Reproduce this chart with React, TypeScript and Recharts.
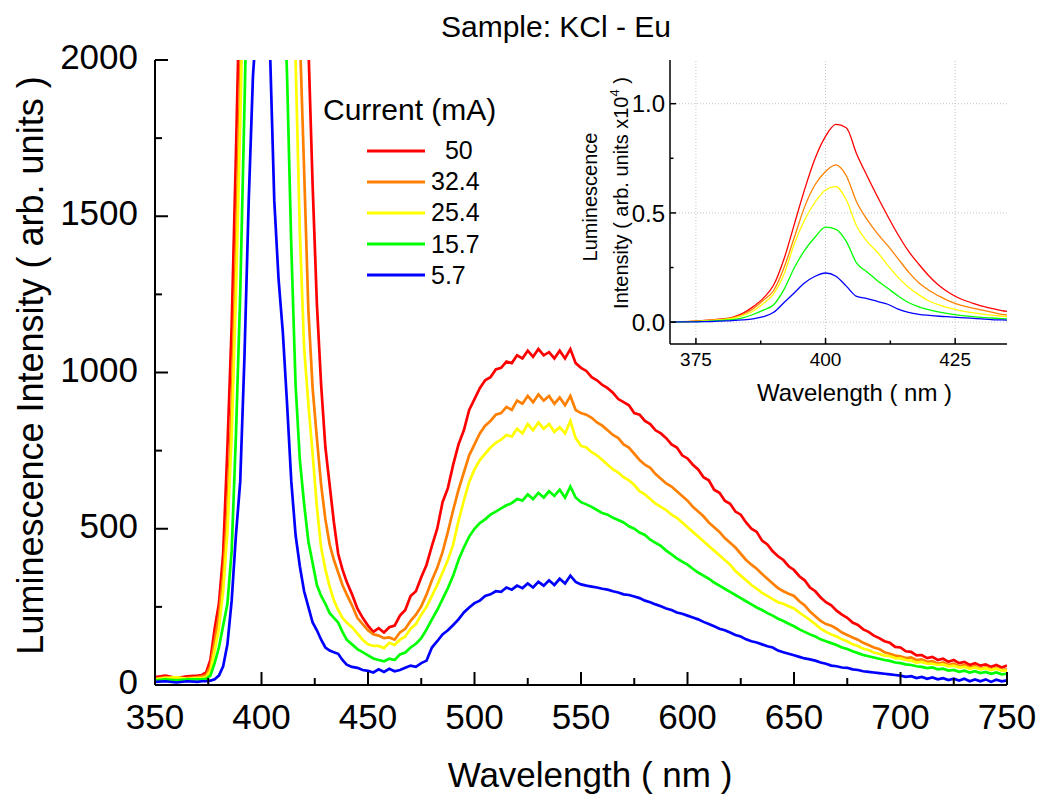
import React from 'react';
import { LineChart, Line, XAxis, YAxis, Legend, ReferenceLine } from 'recharts';

const FONT = '"Liberation Sans", Arial, Helvetica, sans-serif';

// main spectrum, wavelength in nm
const WAVELENGTH = [
  350, 355, 360, 365, 370,
  372, 374, 376, 378, 380, 382, 384, 386, 388, 390,
  392, 394, 396, 398, 400, 402, 404, 406, 408, 410,
  412, 414, 416, 418, 420, 422, 424, 426, 428, 430,
  432, 434, 436, 438, 440,
  442.5, 445, 447.5,
  450, 452.5, 455, 457.5, 460, 462.5, 465, 467.5, 470, 472.5,
  475, 477.5, 480, 482.5, 485, 487.5, 490, 492.5, 495, 497.5,
  500, 502.5, 505, 507.5, 510, 512.5, 515, 517.5, 520, 522.5,
  525, 527.5, 530, 532.5, 535, 537.5, 540, 542.5, 545, 547.5,
  550, 552.5, 555, 557.5, 560, 562.5, 565, 567.5, 570, 572.5,
  575, 577.5, 580, 582.5, 585, 587.5, 590, 592.5, 595, 597.5,
  600, 602.5, 605, 607.5, 610, 612.5, 615, 617.5, 620, 622.5,
  625, 627.5, 630, 632.5, 635, 637.5, 640, 642.5, 645, 647.5,
  650, 652.5, 655, 657.5, 660, 662.5, 665, 667.5, 670, 672.5,
  675, 677.5, 680, 682.5, 685, 687.5, 690, 692.5, 695, 697.5,
  700, 702.5, 705, 707.5, 710, 712.5, 715, 717.5, 720, 722.5,
  725, 727.5, 730, 732.5, 735, 737.5, 740, 742.5, 745, 747.5,
  750,
];

// intensity (arb. units) for each current
const I_50 = [
  25, 30, 22, 28, 30,
  32, 40, 80, 180, 260, 420, 760, 1150, 1700, 2300,
  3200, 4400, 5800, 7200, 8300, 9000, 9000, 8000, 7000, 6200,
  5400, 4600, 3800, 3100, 2500, 2050, 1600, 1220, 960, 760,
  640, 520, 420, 370, 330,
  290, 245, 215,
  190, 170, 182, 168, 185, 190, 222, 240, 285, 300,
  345, 385, 445, 500, 585, 630, 705, 770, 815, 880,
  915, 950, 975, 985, 1010, 1015, 1035, 1030, 1055, 1045,
  1070, 1050, 1075, 1055, 1065, 1045, 1070, 1045, 1075, 1030,
  1015, 1005, 985, 975, 960, 950, 935, 915, 905, 895,
  870, 865, 845, 835, 815, 805, 790, 770, 760, 735,
  725, 705, 690, 665, 655, 625, 615, 590, 580, 555,
  545, 520, 500, 490, 462, 450, 428, 412, 400, 380,
  368, 348, 335, 312, 300, 280, 265, 255, 238, 225,
  215, 200, 192, 178, 170, 158, 150, 140, 135, 122,
  120, 108, 106, 95, 96, 86, 90, 80, 84, 74,
  80, 70, 74, 64, 70, 62, 66, 58, 64, 56,
  62,
];

const I_32_4 = [
  20, 25, 18, 22, 25,
  28, 32, 60, 140, 220, 350, 560, 900, 1400, 1950,
  2700, 3700, 4900, 6000, 7000, 7100, 6500, 5600, 4800, 4200,
  3600, 3000, 2500, 2080, 1650, 1200, 950, 790, 640, 530,
  450, 400, 360, 320, 290,
  255, 215, 195,
  175, 162, 158, 150, 152, 145, 168, 180, 205, 225,
  252, 290, 335, 375, 425, 490, 560, 625, 680, 735,
  770, 805, 830, 845, 865, 870, 890, 880, 910, 900,
  925, 905, 930, 910, 925, 900, 920, 895, 925, 880,
  870, 865, 855, 840, 830, 815, 800, 790, 770, 760,
  740, 720, 705, 695, 675, 660, 645, 635, 620, 605,
  590, 570, 555, 540, 520, 505, 490, 470, 455, 440,
  420, 400, 385, 372, 355, 340, 325, 310, 300, 292,
  285, 268, 255, 235, 220, 205, 195, 190, 180, 168,
  160, 152, 145, 135, 128, 120, 115, 105, 100, 94,
  92, 86, 88, 80, 82, 74, 76, 68, 72, 64,
  68, 60, 64, 56, 60, 52, 56, 50, 54, 48,
  50,
];

const I_25_4 = [
  18, 22, 25, 20, 22,
  22, 25, 45, 110, 180, 300, 490, 800, 1250, 1800,
  2400, 3300, 4300, 5300, 6000, 6100, 5600, 4800, 4100, 3500,
  3000, 2500, 2000, 1450, 1080, 900, 740, 570, 440, 370,
  315, 270, 240, 215, 200,
  185, 165, 145,
  130, 125, 125, 118, 135, 128, 145, 155, 180, 195,
  225, 250, 285, 320, 360, 400, 450, 525, 590, 650,
  690, 720, 740, 760, 775, 785, 800, 795, 820, 805,
  835, 815, 840, 820, 835, 810, 825, 805, 845, 790,
  765, 760, 745, 735, 720, 705, 690, 680, 665, 655,
  640, 620, 610, 595, 580, 570, 560, 545, 535, 520,
  505, 490, 475, 460, 445, 430, 415, 400, 385, 365,
  350, 335, 320, 308, 295, 285, 275, 265, 260, 252,
  245, 232, 220, 208, 195, 180, 170, 162, 155, 146,
  140, 130, 125, 116, 112, 104, 100, 94, 92, 86,
  85, 80, 78, 72, 74, 68, 68, 64, 66, 60,
  62, 56, 58, 52, 56, 50, 54, 48, 52, 46,
  46,
];

const I_15_7 = [
  15, 18, 15, 18, 18,
  18, 20, 30, 70, 120, 190, 260, 430, 800, 1250,
  1850, 2500, 3300, 4000, 4300, 4200, 3800, 3200, 2700, 2350,
  1950, 1400, 960, 720, 580, 460, 390, 320, 285, 260,
  230, 215, 200, 170, 145,
  130, 115, 105,
  95, 85, 80, 76, 84, 80, 98, 104, 120, 132,
  150, 178, 210, 240, 275, 310, 350, 400, 440, 475,
  500, 518, 530, 545, 555, 565, 575, 582, 595, 590,
  610, 595, 615, 600, 620, 605, 625, 600, 635, 600,
  585, 578, 570, 560, 550, 545, 535, 528, 520, 508,
  500, 488, 480, 465, 455, 445, 430, 418, 405, 395,
  385, 372, 360, 350, 340, 328, 318, 308, 298, 288,
  278, 268, 258, 248, 240, 230, 222, 212, 205, 196,
  188, 178, 170, 162, 155, 146, 140, 134, 128, 120,
  115, 108, 102, 96, 92, 88, 84, 80, 77, 72,
  70, 66, 64, 60, 58, 54, 56, 50, 52, 46,
  48, 42, 46, 40, 44, 38, 42, 36, 40, 34,
  36,
];

const I_5_7 = [
  10, 12, 8, 12, 10,
  12, 12, 14, 18, 30, 60, 130, 270, 480, 650,
  1050, 1550, 1950, 2150, 2250, 2150, 2030, 1550, 1300, 1130,
  900, 650, 480, 380, 300, 250, 200, 175, 145, 120,
  110, 105, 100, 80, 65,
  58, 55, 48,
  45, 40, 50, 42, 52, 44, 48, 55, 62, 58,
  70, 78, 120, 140, 162, 175, 192, 210, 232, 248,
  262, 270, 285, 290, 300, 298, 312, 305, 318, 310,
  325, 312, 330, 318, 335, 320, 340, 325, 350, 330,
  322, 318, 315, 312, 308, 305, 300, 296, 290, 288,
  283, 278, 270, 265, 258, 252, 245, 240, 232, 228,
  222, 216, 210, 202, 195, 188, 180, 175, 168, 160,
  155, 146, 140, 136, 130, 124, 120, 110, 105, 100,
  95, 90, 85, 82, 78, 72, 68, 62, 60, 56,
  55, 50, 48, 44, 42, 40, 38, 36, 34, 32,
  30, 26, 28, 22, 26, 20, 24, 18, 22, 16,
  20, 14, 20, 12, 18, 12, 18, 10, 17, 12,
  15,
];

// inset: intensity x10^4 near the 400 nm band
const INSET_WAVELENGTH = [
  370, 372, 374, 376, 378, 380, 382, 384, 386, 388, 390, 392, 394, 396, 398, 400, 402,
  404, 406, 408, 410, 412, 414, 416, 418, 420, 422, 424, 426, 428, 430, 432, 434, 435,
];
const INSET_50 = [
  0, 0.002, 0.004, 0.007, 0.01, 0.015, 0.022, 0.04, 0.07, 0.11, 0.17, 0.29, 0.45, 0.61, 0.75, 0.85, 0.905,
  0.89, 0.77, 0.67, 0.575, 0.485, 0.4, 0.325, 0.265, 0.21, 0.165, 0.132, 0.107, 0.09, 0.074, 0.063, 0.053, 0.049,
];
const INSET_32_4 = [
  0, 0.002, 0.004, 0.006, 0.009, 0.013, 0.02, 0.035, 0.06, 0.1, 0.145, 0.25, 0.39, 0.53, 0.63, 0.69, 0.72,
  0.67, 0.55, 0.47, 0.405, 0.35, 0.29, 0.23, 0.18, 0.145, 0.118, 0.095, 0.078, 0.066, 0.056, 0.046, 0.036, 0.033,
];
const INSET_25_4 = [
  0, 0.001, 0.003, 0.005, 0.008, 0.011, 0.017, 0.03, 0.05, 0.085, 0.13, 0.22, 0.36, 0.47, 0.55, 0.605, 0.62,
  0.56, 0.44, 0.37, 0.32, 0.26, 0.205, 0.16, 0.125, 0.097, 0.078, 0.064, 0.053, 0.045, 0.038, 0.032, 0.027, 0.025,
];
const INSET_15_7 = [
  0, 0.001, 0.002, 0.003, 0.005, 0.008, 0.012, 0.02, 0.035, 0.055, 0.08, 0.15, 0.25, 0.33, 0.39, 0.435, 0.425,
  0.37, 0.27, 0.23, 0.19, 0.155, 0.12, 0.09, 0.07, 0.056, 0.046, 0.038, 0.031, 0.026, 0.022, 0.019, 0.016, 0.015,
];
const INSET_5_7 = [
  0, 0.001, 0.001, 0.002, 0.003, 0.005, 0.007, 0.01, 0.015, 0.025, 0.045, 0.09, 0.135, 0.18, 0.21, 0.225, 0.21,
  0.165, 0.118, 0.108, 0.095, 0.082, 0.06, 0.045, 0.036, 0.031, 0.027, 0.024, 0.021, 0.018, 0.015, 0.012, 0.01, 0.009,
];

const LEGEND_LABELS = ['  50', '32.4', '25.4', '15.7', '5.7'];

const X_TICKS = [350, 375, 400, 425, 450, 475, 500, 525, 550, 575, 600, 625, 650, 675, 700, 725, 750];
const Y_TICKS = [0, 250, 500, 750, 1000, 1250, 1500, 1750, 2000];
const INSET_X_TICKS = [375, 387.5, 400, 412.5, 425];
const INSET_Y_TICKS = [0, 0.25, 0.5, 0.75, 1.0];
const INSET_GRID_X = [375, 400, 425];
const INSET_GRID_Y = [0, 0.5, 1.0];

const SERIES = [
  { key: 's50', color: '#ff0000' },
  { key: 's32', color: '#ff8000' },
  { key: 's25', color: '#ffff00' },
  { key: 's15', color: '#00ff00' },
  { key: 's5', color: '#0000ff' },
];

const mainData = WAVELENGTH.map((wl, i) => ({
  wl,
  s50: I_50[i],
  s32: I_32_4[i],
  s25: I_25_4[i],
  s15: I_15_7[i],
  s5: I_5_7[i],
}));

const insetData = INSET_WAVELENGTH.map((wl, i) => ({
  wl,
  s50: INSET_50[i],
  s32: INSET_32_4[i],
  s25: INSET_25_4[i],
  s15: INSET_15_7[i],
  s5: INSET_5_7[i],
}));

// ---- main axes ticks (drawn inward) ----
const BottomTick = ({ x, y, payload }: any) => {
  const major = payload.value % 50 === 0;
  return (
    <g>
      <line x1={x} y1={y} x2={x} y2={y - (major ? 13 : 7)} stroke="#000" strokeWidth={2} />
      {major && (
        <text x={x} y={y + 44} textAnchor="middle" fontSize={35} fontFamily={FONT} fill="#000">
          {payload.value}
        </text>
      )}
    </g>
  );
};

const TopTick = ({ x, y, payload }: any) => {
  const major = payload.value % 50 === 0;
  return <line x1={x} y1={y} x2={x} y2={y + (major ? 13 : 7)} stroke="#000" strokeWidth={2} />;
};

const LeftTick = ({ x, y, payload }: any) => {
  const major = payload.value % 500 === 0;
  return (
    <g>
      <line x1={x} y1={y} x2={x + (major ? 13 : 7)} y2={y} stroke="#000" strokeWidth={2} />
      {major && (
        <text x={x - 17} y={y + 9} textAnchor="end" fontSize={35} fontFamily={FONT} fill="#000">
          {payload.value}
        </text>
      )}
    </g>
  );
};

const RightTick = ({ x, y, payload }: any) => {
  const major = payload.value % 500 === 0;
  return <line x1={x} y1={y} x2={x - (major ? 13 : 7)} y2={y} stroke="#000" strokeWidth={2} />;
};

// ---- inset ticks ----
const InsetBottomTick = ({ x, y, payload }: any) => {
  const major = payload.value % 25 === 0;
  return (
    <g>
      <line x1={x} y1={y} x2={x} y2={y - (major ? 6 : 3.5)} stroke="#000" strokeWidth={1.5} />
      {major && (
        <text x={x} y={y + 22} textAnchor="middle" fontSize={19} fontFamily={FONT} fill="#000">
          {payload.value}
        </text>
      )}
    </g>
  );
};

const isHalf = (v: number) => Math.abs(v * 2 - Math.round(v * 2)) < 1e-6;

const InsetLeftTick = ({ x, y, payload }: any) => {
  const major = isHalf(payload.value);
  return (
    <g>
      <line x1={x} y1={y} x2={x + (major ? 6 : 3.5)} y2={y} stroke="#000" strokeWidth={1.5} />
      {major && (
        <text x={x - 5} y={y + 8.6} textAnchor="end" fontSize={24} fontFamily={FONT} fill="#000">
          {payload.value.toFixed(1)}
        </text>
      )}
    </g>
  );
};

const InsetRightTick = ({ x, y, payload }: any) => {
  const major = isHalf(payload.value);
  return <line x1={x} y1={y} x2={x - (major ? 6 : 3.5)} y2={y} stroke="#000" strokeWidth={1.5} />;
};

// ---- labels ----
const XTitle = ({ viewBox }: any) => (
  <text x={viewBox.x + viewBox.width / 2 + 9} y={viewBox.y + 102} textAnchor="middle" fontSize={35} fontFamily={FONT} fill="#000">
    Wavelength ( nm )
  </text>
);

// y title of the main plot, plus the chart title above the frame
const YTitle = ({ viewBox }: any) => {
  const x = viewBox.x + 43;
  const y = viewBox.y + viewBox.height / 2 - 7;
  return (
    <g>
      <text x={x} y={y} transform={`rotate(-90, ${x}, ${y})`} textAnchor="middle" fontSize={36} fontFamily={FONT} fill="#000">
        Luminescence Intensity ( arb. units )
      </text>
      <text x={556} y={viewBox.y - 23} textAnchor="middle" fontSize={30} fontFamily={FONT} fill="#000">
        Sample: KCl - Eu
      </text>
    </g>
  );
};

const InsetXTitle = ({ viewBox }: any) => (
  <text x={viewBox.x + viewBox.width / 2 + 16} y={viewBox.y + 57} textAnchor="middle" fontSize={24} fontFamily={FONT} fill="#000">
    Wavelength ( nm )
  </text>
);

const InsetYTitle = ({ viewBox }: any) => {
  const x1 = viewBox.x + 37;
  const y1 = viewBox.y + viewBox.height / 2 - 5;
  const x2 = viewBox.x + 68;
  const y2 = viewBox.y + viewBox.height / 2 - 9;
  return (
    <g>
      <text x={x1} y={y1} transform={`rotate(-90, ${x1}, ${y1})`} textAnchor="middle" fontSize={20} fontFamily={FONT} fill="#000">
        Luminescence
      </text>
      <text x={x2} y={y2} transform={`rotate(-90, ${x2}, ${y2})`} textAnchor="middle" fontSize={20} fontFamily={FONT} fill="#000">
        Intensity ( arb. units x10
        <tspan dy={-9} fontSize={13}>4</tspan>
        <tspan dy={9}> )</tspan>
      </text>
    </g>
  );
};

const renderLegend = () => (
  <div style={{ fontFamily: FONT, color: '#000' }}>
    <div style={{ fontSize: 30, lineHeight: '30px', height: 30, whiteSpace: 'nowrap' }}>Current (mA)</div>
    <div style={{ marginTop: 10 }}>
      {SERIES.map((s, i) => (
        <div key={s.key} style={{ display: 'flex', alignItems: 'center', height: 31.2 }}>
          <svg width={102} height={6} style={{ display: 'block' }}>
            <line x1={44} x2={102} y1={3} y2={3} stroke={s.color} strokeWidth={3} />
          </svg>
          <span style={{ fontSize: 25, whiteSpace: 'pre', marginLeft: 6 }}>{LEGEND_LABELS[i]}</span>
        </div>
      ))}
    </div>
  </div>
);

export default function App() {
  return (
    <div style={{ position: 'absolute', left: 0, top: 0, width: 1041, height: 797, background: '#fff' }}>
      <LineChart width={1041} height={797} data={mainData} margin={{ top: 60, right: 34, bottom: 0, left: 0 }}>
        <XAxis
          dataKey="wl"
          type="number"
          domain={[350, 750]}
          allowDataOverflow
          ticks={X_TICKS}
          interval={0}
          height={112}
          tickSize={0}
          tickMargin={0}
          tickLine={false}
          tick={<BottomTick />}
          axisLine={{ stroke: '#000', strokeWidth: 2 }}
          label={XTitle}
        />
        <XAxis
          xAxisId="top"
          orientation="top"
          dataKey="wl"
          type="number"
          domain={[350, 750]}
          allowDataOverflow
          ticks={X_TICKS}
          interval={0}
          height={0}
          tickSize={0}
          tickMargin={0}
          tickLine={false}
          tick={<TopTick />}
          axisLine={{ stroke: '#000', strokeWidth: 2 }}
        />
        <YAxis
          type="number"
          domain={[0, 2000]}
          allowDataOverflow
          ticks={Y_TICKS}
          interval={0}
          width={155}
          tickSize={0}
          tickMargin={0}
          tickLine={false}
          tick={<LeftTick />}
          axisLine={{ stroke: '#000', strokeWidth: 2 }}
          label={YTitle}
        />
        <YAxis
          yAxisId="right"
          orientation="right"
          type="number"
          domain={[0, 2000]}
          allowDataOverflow
          ticks={Y_TICKS}
          interval={0}
          width={0}
          tickSize={0}
          tickMargin={0}
          tickLine={false}
          tick={<RightTick />}
          axisLine={{ stroke: '#000', strokeWidth: 2 }}
        />
        <Legend
          layout="vertical"
          align="center"
          verticalAlign="middle"
          content={renderLegend}
          wrapperStyle={{ position: 'absolute', left: 323, top: 95, width: 220, height: 200 }}
        />
        {SERIES.map((s, i) => (
          <Line
            key={s.key}
            type="linear"
            dataKey={s.key}
            name={LEGEND_LABELS[i]}
            stroke={s.color}
            strokeWidth={2.7}
            dot={false}
            activeDot={false}
            isAnimationActive={false}
          />
        ))}
      </LineChart>

      <div style={{ position: 'absolute', left: 560, top: 50 }}>
        <LineChart width={460} height={370} data={insetData} margin={{ top: 10, right: 13, bottom: 16, left: 0 }}>
          <XAxis
            dataKey="wl"
            type="number"
            domain={[370, 435]}
            allowDataOverflow
            ticks={INSET_X_TICKS}
            interval={0}
            height={60}
            tickSize={0}
            tickMargin={0}
            tickLine={false}
            tick={<InsetBottomTick />}
            axisLine={{ stroke: '#000', strokeWidth: 1.5 }}
            label={InsetXTitle}
          />
          <YAxis
            type="number"
            domain={[-0.1, 1.2]}
            allowDataOverflow
            ticks={INSET_Y_TICKS}
            interval={0}
            width={110}
            tickSize={0}
            tickMargin={0}
            tickLine={false}
            tick={<InsetLeftTick />}
            axisLine={{ stroke: '#000', strokeWidth: 1.5 }}
            label={InsetYTitle}
          />
          <YAxis
            yAxisId="right"
            orientation="right"
            type="number"
            domain={[-0.1, 1.2]}
            allowDataOverflow
            ticks={INSET_Y_TICKS}
            interval={0}
            width={0}
            tickSize={0}
            tickMargin={0}
            tickLine={false}
            tick={<InsetRightTick />}
            axisLine={false}
          />
          {INSET_GRID_X.map((v) => (
            <ReferenceLine key={`gx${v}`} x={v} stroke="#c4c4c4" strokeDasharray="1 2" strokeWidth={1} />
          ))}
          {INSET_GRID_Y.map((v) => (
            <ReferenceLine key={`gy${v}`} y={v} stroke="#c4c4c4" strokeDasharray="1 2" strokeWidth={1} />
          ))}
          {SERIES.map((s, i) => (
            <Line
              key={s.key}
              type="monotone"
              dataKey={s.key}
              name={LEGEND_LABELS[i]}
              stroke={s.color}
              strokeWidth={1.3}
              dot={false}
              activeDot={false}
              isAnimationActive={false}
            />
          ))}
        </LineChart>
      </div>
    </div>
  );
}
